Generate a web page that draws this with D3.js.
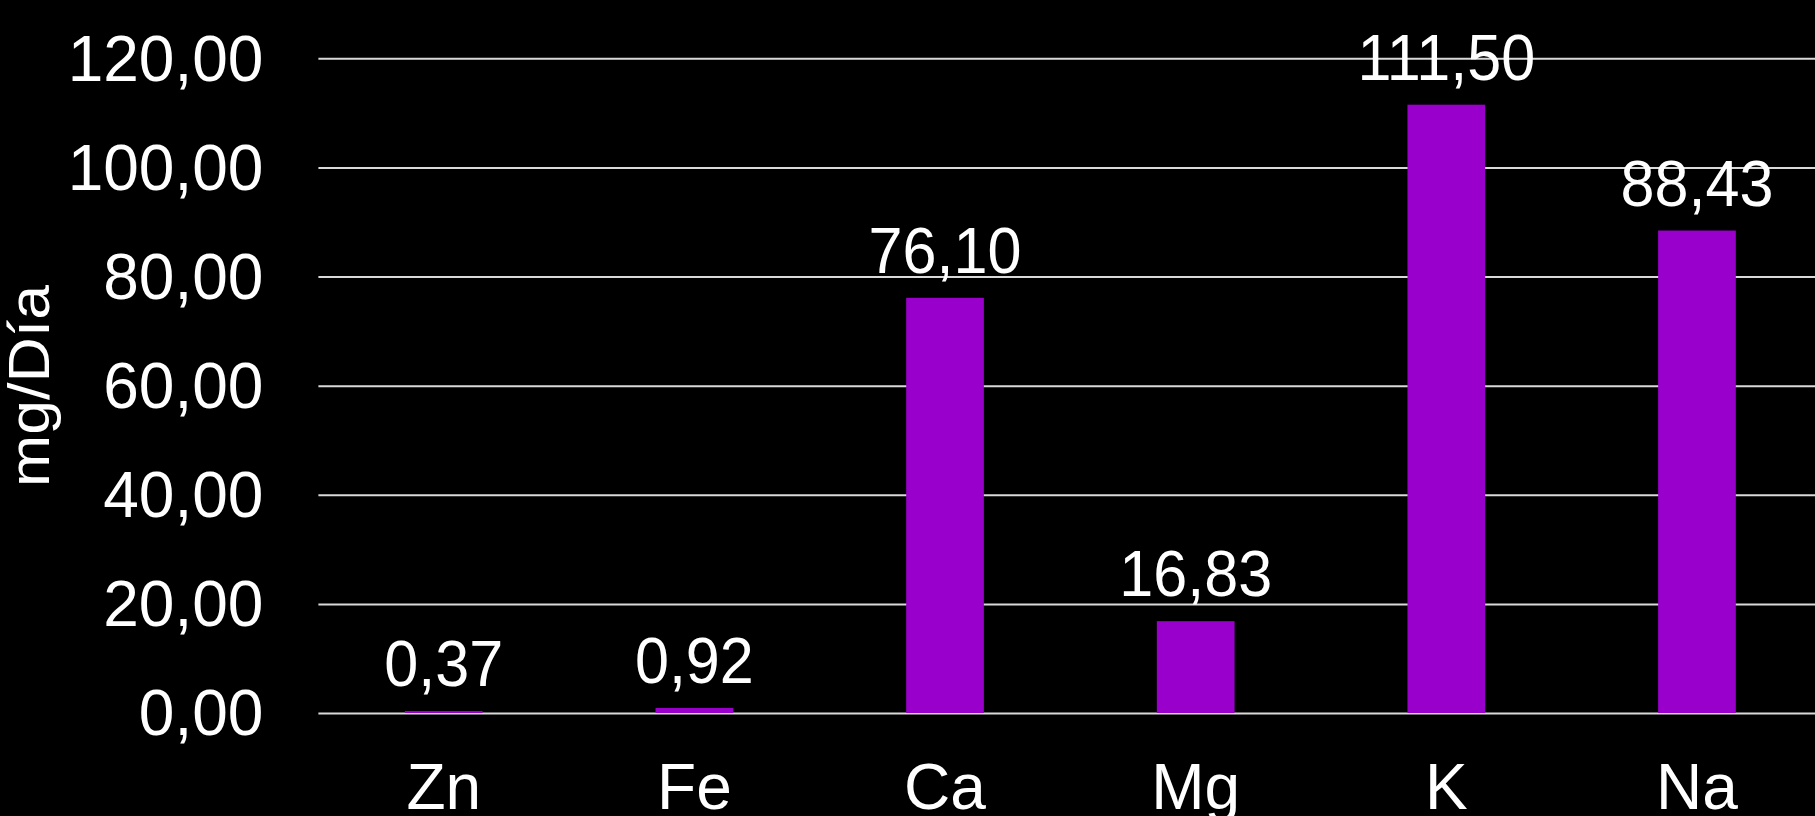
<!DOCTYPE html>
<html>
<head>
<meta charset="utf-8">
<script src="https://cdn.jsdelivr.net/npm/d3@7"></script>
<style>
  html, body { margin: 0; padding: 0; background: #000; overflow: hidden; }
  svg { display: block; }
  text { font-family: "Liberation Sans", Arial, Helvetica, sans-serif; fill: #fff; }
</style>
</head>
<body>
<svg id="chart" width="1815" height="816"></svg>
<script>
// Daily mineral intake (mg per day)
const categories = ["Zn", "Fe", "Ca", "Mg", "K", "Na"];
const values = [0.37, 0.92, 76.10, 16.83, 111.50, 88.43];
const yTicks = [0, 20, 40, 60, 80, 100, 120];
const yTitle = "mg/Día";

const W = 1815, H = 816;
const plotLeft = 318.4, plotRight = 1822.3, plotTop = 58.3, plotBottom = 713;

const esLocale = d3.formatLocale({ decimal: ",", thousands: ".", grouping: [3], currency: ["", " €"] });
const fmt = esLocale.format(".2f");

const svg = d3.select("#chart");
svg.append("rect").attr("width", W).attr("height", H).attr("fill", "#000");

const x = d3.scaleBand()
  .domain(categories)
  .range([plotLeft, plotRight])
  .paddingInner(0.69)
  .paddingOuter(0.345);

const y = d3.scaleLinear().domain([0, 120]).range([plotBottom, plotTop]);

// Value axis with horizontal gridlines
const yAxis = d3.axisLeft(y)
  .tickValues(yTicks)
  .tickFormat(fmt)
  .tickSizeInner(-(W - plotLeft))
  .tickSizeOuter(0)
  .tickPadding(55);

const gy = svg.append("g")
  .attr("transform", `translate(${plotLeft},0)`)
  .call(yAxis);
gy.select(".domain").remove();
gy.selectAll(".tick line").attr("stroke", "#d9d9d9").attr("stroke-width", 2);
gy.selectAll(".tick text")
  .attr("fill", "#fff")
  .attr("font-size", 64)
  .attr("dy", "0.34em");

// Bars
svg.append("g")
  .selectAll("rect")
  .data(categories)
  .join("rect")
  .attr("x", (d) => x(d))
  .attr("width", x.bandwidth())
  .attr("y", (d, i) => y(values[i]))
  .attr("height", (d, i) => y(0) - y(values[i]))
  .attr("fill", "#9900cc");

// Value labels above bars
svg.append("g")
  .selectAll("text")
  .data(categories)
  .join("text")
  .attr("transform", (d, i) => `translate(${x(d) + x.bandwidth() / 2},${y(values[i]) - 25}) scale(0.94,1)`)
  .attr("text-anchor", "middle")
  .attr("font-size", 65)
  .text((d, i) => fmt(values[i]));

// Category axis
const xAxis = d3.axisBottom(x).tickSize(0).tickPadding(51);
const gx = svg.append("g")
  .attr("transform", `translate(0,${plotBottom})`)
  .call(xAxis);
gx.select(".domain").remove();
gx.selectAll(".tick text").attr("fill", "#fff").attr("font-size", 64);

// Vertical axis title
svg.append("text")
  .attr("transform", "translate(49,386) rotate(-90)")
  .attr("text-anchor", "middle")
  .attr("font-size", 58)
  .attr("textLength", 202)
  .attr("lengthAdjust", "spacingAndGlyphs")
  .text(yTitle);
</script>
</body>
</html>
